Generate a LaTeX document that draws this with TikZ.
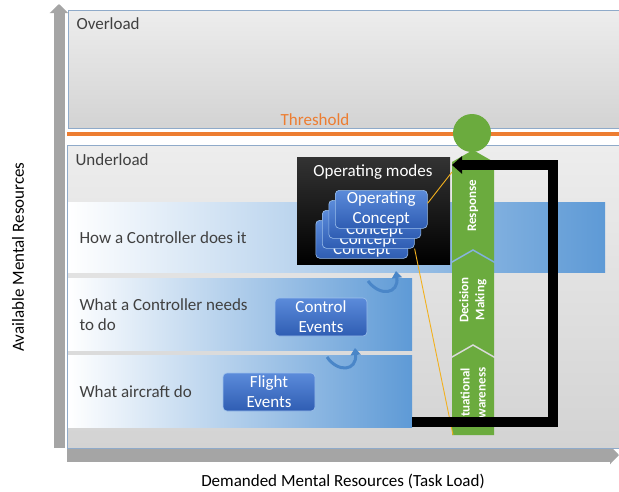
\documentclass[tikz,border=0pt]{standalone}
\usepackage{fontspec}
\setmainfont{Carlito}
\usetikzlibrary{arrows.meta,positioning}
\definecolor{panellight}{HTML}{EDEDED}
\definecolor{paneldark}{HTML}{D3D3D3}
\definecolor{paneledge}{HTML}{8FAAC9}
\definecolor{thresholdorange}{HTML}{ED7D31}
\definecolor{bandblue}{HTML}{5E9AD6}
\definecolor{boxtop}{HTML}{5B8BDA}
\definecolor{boxbottom}{HTML}{2F5DB3}
\definecolor{boxedge}{HTML}{9CC0EC}
\definecolor{stagegreen}{HTML}{6BAB3E}
\definecolor{swooshblue}{HTML}{4A86C8}
\definecolor{axisgray}{HTML}{A5A5A5}
\definecolor{linkyellow}{HTML}{F2B01E}
\definecolor{labelgray}{HTML}{404040}
\tikzstyle{panel}=[anchor=north west, inner sep=0pt, draw=paneledge, line width=0.6pt,
  top color=panellight, bottom color=paneldark]
\tikzstyle{band}=[anchor=north west, inner sep=0pt, left color=white, right color=bandblue]
\tikzstyle{band text}=[anchor=west, align=left, text=labelgray]
\tikzstyle{event}=[rounded corners=4pt, draw=boxedge, line width=0.6pt, top color=boxtop,
  bottom color=boxbottom, text=white, align=center, inner sep=0pt,
  minimum width=92pt, minimum height=38pt]
\tikzstyle{stage}=[fill=stagegreen]
\tikzstyle{stage text}=[rotate=90, text=white, align=center, font=\fontsize{13}{16}\selectfont\bfseries]
\tikzstyle{swoosh}=[swooshblue, line width=3pt, -{Triangle[length=7pt,width=10pt]}]
\tikzstyle{feedback}=[line width=10pt, -{Triangle[length=10pt,width=17pt]}]
\tikzstyle{axis}=[axisgray, -{Triangle[length=9pt,width=18pt]}]
\tikzstyle{link}=[linkyellow, line width=0.9pt]

\begin{document}
\begin{tikzpicture}[x=1pt,y=-1pt,font=\fontsize{17}{20}\selectfont]
  \useasboundingbox (0,0) rectangle (619,491);
  % axes
  \coordinate (origin) at (59,448);
  \coordinate (ytop) at (59,4);
  \coordinate (xstart) at (67,455);
  \coordinate (xend) at (619,455);
  \draw[axis, line width=11pt] (origin) -- (ytop);
  \draw[axis, line width=13pt] (xstart) -- (xend);
  \node[rotate=90] (ylabel) at (18,257) {Available Mental Resources};
  \node (xlabel) at (343,481) {Demanded Mental Resources (Task Load)};

  % load levels
  \node[panel, minimum width=552pt, minimum height=118pt] (over) at (68,10) {};
  \node[band text] (overtext) at (73,24) {Overload};
  \draw[thresholdorange, line width=4pt] (67,134) -- (619,134);
  \node[text=thresholdorange] (thtext) at (315,120) {Threshold};
  \node[panel, minimum width=552pt, minimum height=303pt] (under) at (67,145) {};
  \node[band text] (undertext) at (72,160) {Underload};

  \node[band, minimum width=537pt, minimum height=70pt] (how) at (68,202) {};
  \node[band, minimum width=344pt, minimum height=72pt] (needs) at (68,278) {};
  \node[band, minimum width=344pt, minimum height=72pt] (aircraft) at (68,355) {};
  \node[band text] (howtext) at ([xshift=8pt]how.west) {How a Controller does it};
  \node[band text] (needstext) at ([xshift=8pt]needs.west) {What a Controller needs\\to do};
  \node[band text] (aircrafttext) at ([xshift=8pt]aircraft.west) {What aircraft do};

  % events
  \node[event] (flight) at (269,392) {Flight\\Events};
  \node[event] (control) at (321,317) {Control\\Events};
  \coordinate (sw1 start) at (327,357);
  \coordinate (sw1 end) at (355,348);
  \coordinate (sw2 start) at (368,281);
  \coordinate (sw2 end) at (396,271);
  \draw[swoosh] (sw1 start) .. controls (338,373) and (357,371) .. (sw1 end);
  \draw[swoosh] (sw2 start) .. controls (380,297) and (399,294) .. (sw2 end);

  % operating modes
  \node[anchor=north west, inner sep=0pt, minimum width=153pt, minimum height=107pt,
    top color=black!80, bottom color=black] (modes) at (297,157) {};
  \node[text=white] (modestext) at (373,172) {Operating modes};
  \foreach \k in {3,2,1} {
    \node[event, anchor=north west] (card\k) at ({335-6.5*\k},{190+10*\k}) {};
    \node[text=white] at ([yshift=-11pt]card\k.center) {Concept};
  }
  \node[event, anchor=north west] (card0) at (335,190) {Operating\\Concept};

  % cognitive stages
  \fill[stage] (452,162) -- (473,150) -- (494,162) -- (494,261) -- (473,249) -- (452,261) -- cycle;
  \fill[stage] (452,263) -- (473,251) -- (494,263) -- (494,356) -- (473,344) -- (452,356) -- cycle;
  \fill[stage] (452,358) -- (473,346) -- (494,358) -- (494,435) -- (452,435) -- cycle;
  \node[stage text] (resp) at (473,206) {Response};
  \node[stage text] (dec) at (473,300) {Decision\\Making};
  \node[stage text] (sit) at (473,397) {Situational\\Awareness};

  % links and feedback
  \coordinate (resp in) at (452,172);
  \coordinate (sit base) at (453,435);
  \draw[link] ([yshift=6pt]card0.east) -- (resp in);
  \draw[link] (card2.south east) -- (sit base);
  \coordinate (fb start) at (412,422);
  \coordinate (fb corner) at (553,422);
  \coordinate (fb end) at (452,165);
  \draw[feedback] (fb start) -- (fb corner) |- (fb end);
  \node[circle, fill=stagegreen, minimum size=38pt, inner sep=0pt] (limit) at (472,133) {};
\end{tikzpicture}
\end{document}
